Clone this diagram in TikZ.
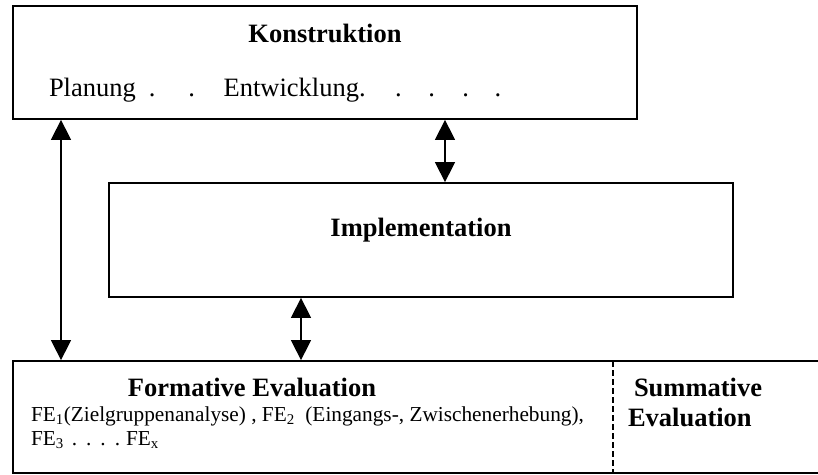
\documentclass[tikz,border=0pt]{standalone}
\usepackage{fontspec}
\setmainfont{Liberation Serif}
\usetikzlibrary{arrows.meta}
\tikzset{
  box/.style={draw=black, line width=1.8pt, fill=white, inner sep=0pt},
  dbl/.style={{Triangle[width=20pt,length=20pt]}-{Triangle[width=20pt,length=20pt]}, line width=1.5pt},
  big/.style={font=\fontsize{26.5}{30}\selectfont},
  bigb/.style={font=\fontsize{26.5}{30}\selectfont\bfseries},
  small/.style={font=\fontsize{21.3}{24}\selectfont},
  txt/.style={inner sep=0pt, outer sep=0pt},
}
\begin{document}
\begin{tikzpicture}[x=1pt,y=-1pt]
\useasboundingbox (0,0) rectangle (818,474);
\clip (0,0) rectangle (818,474);
\fill[white] (0,0) rectangle (818,474);
% boxes
\node[box, minimum width=624pt, minimum height=113pt] (kon) at (325,62.5) {};
\node[box, minimum width=624pt, minimum height=114pt] (imp) at (421,240) {};
\node[box, minimum width=809pt, minimum height=112pt] (eval) at (417.5,417) {};
\coordinate (dtop) at (613,361);
\coordinate (dbot) at (613,473);
\draw[line width=1.5pt, dash pattern=on 6pt off 3pt] (dtop) -- (dbot);
% texts
\node[txt, bigb, anchor=base] (kont) at (325,42) {Konstruktion};
\node[txt, big, anchor=base west] (plan) at (49,96) {Planung\hspace{13pt}.\hspace{33pt}.\hspace{28.5pt}Entwicklung.\hspace{29.5pt}.\hspace{26.5pt}.\hspace{27.5pt}.\hspace{25.5pt}.};
\node[txt, bigb, anchor=base] (impt) at (421,236) {Implementation};
\node[txt, bigb, anchor=base] (fort) at (252,396) {Formative Evaluation};
\node[txt, small, anchor=base west] (fe1) at (31,421) {FE\textsubscript{1}(Zielgruppenanalyse) , FE\textsubscript{2}\ \ (Eingangs-, Zwischenerhebung),};
\node[txt, small, anchor=base west] (fe3) at (31,445) {FE\textsubscript{3}\hspace{8pt}.\hspace{9pt}.\hspace{9pt}.\hspace{9pt}.\hspace{6pt}FE\textsubscript{x}};
\node[txt, bigb, anchor=base west] (sum1) at (634,396) {Summative};
\node[txt, bigb, anchor=base west] (sum2) at (628,426) {Evaluation};
% arrows
\draw[dbl] (61,0 |- kon.south) -- (61,0 |- eval.north);
\draw[dbl] (445,0 |- kon.south) -- (445,0 |- imp.north);
\draw[dbl] (301,0 |- imp.south) -- (301,0 |- eval.north);
\end{tikzpicture}
\end{document}
